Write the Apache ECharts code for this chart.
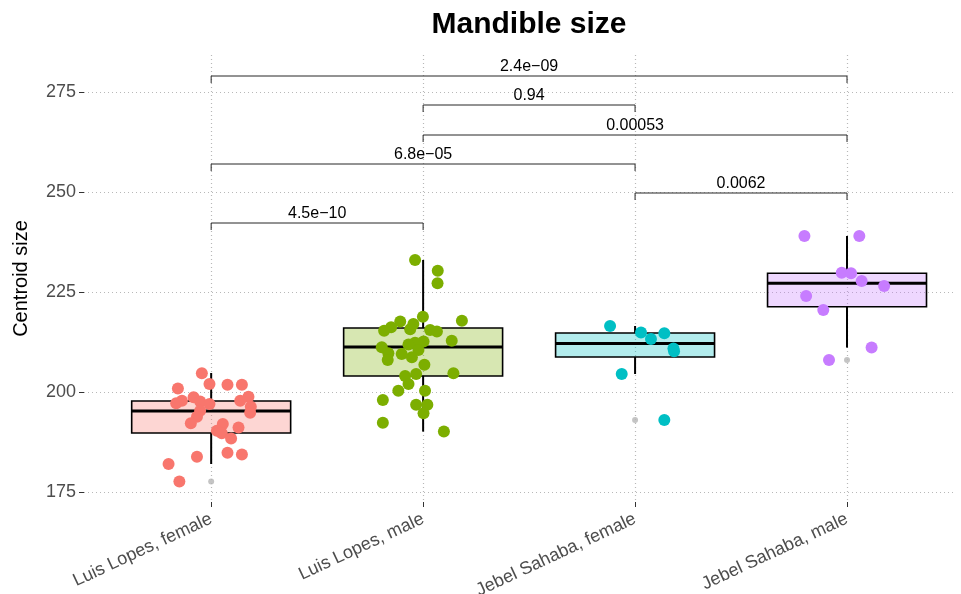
<!DOCTYPE html>
<html>
<head>
<meta charset="utf-8">
<script src="https://cdn.jsdelivr.net/npm/echarts@6/dist/echarts.min.js"></script>
<style>
  html, body { margin: 0; padding: 0; background: #ffffff; }
  #chart { width: 961px; height: 594px; }
</style>
</head>
<body>
<div id="chart"></div>
<script>
// Groups along the x axis
const categories = ['Luis Lopes, female', 'Luis Lopes, male', 'Jebel Sahaba, female', 'Jebel Sahaba, male'];
const groupColors = ['#F8766D', '#7CAE00', '#00BFC4', '#C77CFF'];

// Y axis tick values
const yTicks = [175, 200, 225, 250, 275];

// Individual specimens: horizontal jitter (fraction of a category step) and centroid size
const llFemaleJitter = [-0.044, -0.157, -0.008, 0.077, 0.145, 0.176, -0.083, -0.138, -0.165, -0.052, -0.008, 0.137, 0.187, 0.184, -0.052, -0.067, -0.096, 0.055, 0.027, 0.050, 0.129, 0.094, -0.067, 0.077, 0.145, -0.201, -0.150];
const llFemaleSize   = [204.7, 200.9, 202.0, 201.8, 201.8, 198.8, 198.7, 197.8, 197.2, 197.6, 197.0, 197.8, 196.3, 194.8, 195.3, 193.8, 192.2, 192.0, 190.3, 189.7, 191.1, 188.4, 183.8, 184.8, 184.4, 182.0, 177.6];

const llMaleJitter = [-0.038, 0.069, 0.068, -0.001, 0.183, -0.108, -0.151, -0.046, -0.184, -0.061, 0.033, 0.065, 0.135, 0.002, -0.038, -0.069, -0.195, -0.022, -0.164, -0.101, -0.053, -0.167, 0.006, -0.033, 0.143, -0.085, -0.069, -0.117, 0.009, -0.190, -0.033, 0.020, 0.002, -0.190, 0.098];
const llMaleSize   = [233.0, 230.3, 227.2, 218.8, 217.8, 217.6, 216.2, 217.0, 215.3, 215.7, 215.5, 215.1, 212.8, 212.6, 212.3, 211.9, 211.2, 210.5, 209.7, 209.5, 208.7, 208.0, 206.8, 204.5, 204.7, 204.0, 202.0, 200.3, 200.3, 198.0, 196.8, 196.8, 194.7, 192.3, 190.1];

const jsFemaleJitter = [-0.118, 0.028, 0.075, 0.138, 0.181, 0.184, -0.063, 0.138];
const jsFemaleSize   = [216.5, 214.9, 213.25, 214.7, 210.9, 210.2, 204.5, 193.0];

const jsMaleJitter = [-0.201, 0.058, -0.025, 0.019, 0.069, 0.175, -0.193, -0.112, 0.116, -0.085];
const jsMaleSize   = [239.0, 239.0, 229.8, 229.7, 227.75, 226.5, 224.0, 220.5, 211.1, 208.0];

// Box summaries per group
const boxLow    = [182.0, 190.1, 204.5, 211.1];
const boxQ1     = [189.75, 204.0, 208.75, 221.3];
const boxMedian = [195.25, 211.25, 212.1, 227.2];
const boxQ3     = [197.75, 216.0, 214.75, 229.7];
const boxHigh   = [204.75, 233.0, 216.5, 239.0];
// Outliers flagged by the box statistics (null where none)
const boxOutlier = [177.6, null, 193.0, 208.0];

// Pairwise comparisons: groups (1-based), bracket height and p-value text
const bracketFrom   = [1, 3, 1, 2, 2, 1];
const bracketTo     = [2, 4, 3, 4, 3, 4];
const bracketHeight = [242.25, 249.75, 257.0, 264.25, 271.75, 279.0];
const bracketLabel  = ['4.5e\u221210', '0.0062', '6.8e\u221205', '0.00053', '0.94', '2.4e\u221209'];

const jitterGroups = [
  [llFemaleJitter, llFemaleSize],
  [llMaleJitter, llMaleSize],
  [jsFemaleJitter, jsFemaleSize],
  [jsMaleJitter, jsMaleSize]
];

const FONT = 'Liberation Sans, Arial, Helvetica, sans-serif';

const boxData = categories.map((c, i) => [i + 1, boxLow[i], boxQ1[i], boxMedian[i], boxQ3[i], boxHigh[i], i]);
const outlierData = boxOutlier.map((v, i) => v == null ? null : [i + 1, v]).filter(d => d);
const bracketData = bracketFrom.map((f, i) => [f, bracketTo[i], bracketHeight[i], i]);

function hexToRgba(hex, a) {
  const n = parseInt(hex.slice(1), 16);
  return 'rgba(' + ((n >> 16) & 255) + ',' + ((n >> 8) & 255) + ',' + (n & 255) + ',' + a + ')';
}

const pointSeries = jitterGroups.map((g, gi) => ({
  type: 'scatter',
  name: categories[gi],
  z: 5,
  symbol: 'circle',
  symbolSize: 12,
  itemStyle: { color: groupColors[gi], opacity: 1 },
  silent: true,
  data: g[0].map((dx, k) => [gi + 1 + dx, g[1][k]])
}));

const gridLine = { show: true, lineStyle: { type: [1, 3], color: '#b8b8b8', width: 1.2 } };

const option = {
  animation: false,
  backgroundColor: '#ffffff',
  textStyle: { fontFamily: FONT },
  grid: { left: 84, right: 8, top: 55, bottom: 92, containLabel: false, outerBoundsMode: 'none' },
  graphic: [{
    type: 'text',
    x: 529, y: 25,
    style: {
      text: 'Mandible size',
      font: 'bold 30px ' + FONT,
      fill: '#000000',
      textAlign: 'center',
      textVerticalAlign: 'middle'
    }
  }],
  xAxis: {
    type: 'value',
    min: 0.4,
    max: 4.5,
    axisLine: { show: false },
    axisTick: { show: true, customValues: [1, 2, 3, 4], length: 5, lineStyle: { color: '#333333', width: 1 } },
    axisLabel: {
      customValues: [1, 2, 3, 4],
      formatter: v => categories[Math.round(v) - 1],
      rotate: 25,
      margin: 16,
      color: '#4d4d4d',
      fontSize: 18,
      fontFamily: FONT
    },
    splitLine: gridLine
  },
  yAxis: {
    type: 'value',
    min: 172.5,
    max: 284.25,
    name: 'Centroid size',
    nameLocation: 'middle',
    nameGap: 53,
    nameRotate: 90,
    nameTextStyle: { color: '#000000', fontSize: 20, fontFamily: FONT },
    axisLine: { show: false },
    axisTick: { show: true, customValues: yTicks, length: 5, lineStyle: { color: '#333333', width: 1 } },
    axisLabel: { customValues: yTicks, color: '#4d4d4d', fontSize: 18, margin: 8, fontFamily: FONT },
    splitLine: gridLine
  },
  series: [
    {
      type: 'custom',
      name: 'boxes',
      z: 2,
      silent: true,
      data: boxData,
      renderItem: function (params, api) {
        const x = api.value(0);
        const gi = api.value(6);
        const pLow = api.coord([x, api.value(1)]);
        const pQ1 = api.coord([x, api.value(2)]);
        const pMed = api.coord([x, api.value(3)]);
        const pQ3 = api.coord([x, api.value(4)]);
        const pHigh = api.coord([x, api.value(5)]);
        const half = api.size([0.375, 0])[0];
        const cx = pMed[0];
        return {
          type: 'group',
          children: [
            { type: 'line', shape: { x1: cx, y1: pQ3[1], x2: cx, y2: pHigh[1] }, style: { stroke: '#000', lineWidth: 2 } },
            { type: 'line', shape: { x1: cx, y1: pQ1[1], x2: cx, y2: pLow[1] }, style: { stroke: '#000', lineWidth: 2 } },
            { type: 'rect', shape: { x: cx - half, y: pQ3[1], width: 2 * half, height: pQ1[1] - pQ3[1] },
              style: { fill: hexToRgba(groupColors[gi], 0.3), stroke: '#000', lineWidth: 1.6 } },
            { type: 'line', shape: { x1: cx - half, y1: pMed[1], x2: cx + half, y2: pMed[1] }, style: { stroke: '#000', lineWidth: 3 } }
          ]
        };
      }
    },
    {
      type: 'scatter',
      name: 'outliers',
      z: 3,
      silent: true,
      symbolSize: 6,
      itemStyle: { color: '#b5b5b5' },
      data: outlierData
    },
    ...pointSeries,
    {
      type: 'custom',
      name: 'comparisons',
      z: 6,
      silent: true,
      data: bracketData,
      renderItem: function (params, api) {
        const a = api.coord([api.value(0), api.value(2)]);
        const b = api.coord([api.value(1), api.value(2)]);
        const idx = api.value(3);
        const drop = 7;
        return {
          type: 'group',
          children: [
            { type: 'polyline', shape: { points: [[a[0], a[1] + drop], [a[0], a[1]], [b[0], b[1]], [b[0], b[1] + drop]] },
              style: { stroke: '#262626', lineWidth: 1, fill: null } },
            { type: 'text', x: (a[0] + b[0]) / 2, y: a[1] - 1,
              style: { text: bracketLabel[idx], font: '16px ' + FONT, fill: '#000', textAlign: 'center', textVerticalAlign: 'bottom' } }
          ]
        };
      }
    }
  ]
};

const chart = echarts.init(document.getElementById('chart'), null, { renderer: 'canvas' });
chart.setOption(option);
</script>
</body>
</html>
